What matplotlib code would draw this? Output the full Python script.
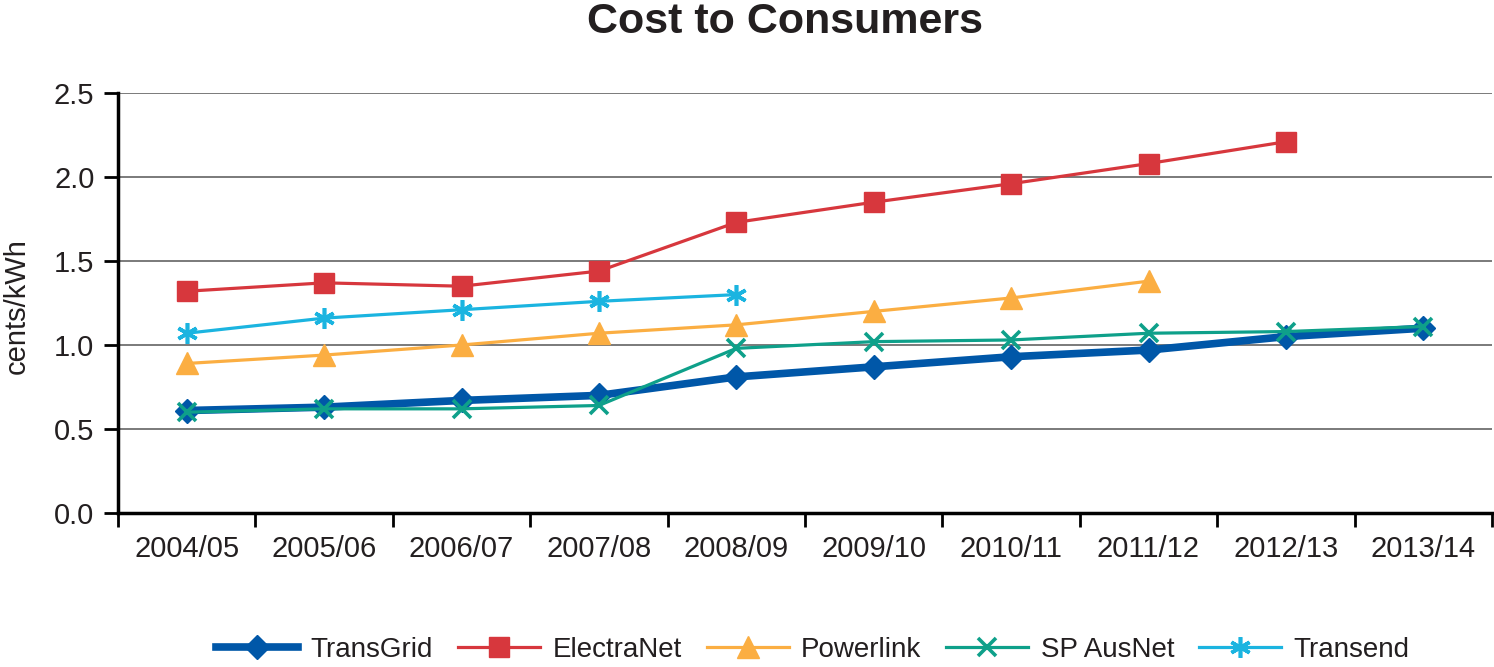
import matplotlib
matplotlib.use("Agg")
from matplotlib import pyplot as plt
import numpy as np

plt.rcParams['font.family'] = ['Liberation Sans', 'DejaVu Sans']

# data (cents/kWh)
years = ['2004/05', '2005/06', '2006/07', '2007/08', '2008/09',
         '2009/10', '2010/11', '2011/12', '2012/13', '2013/14']
transgrid = [0.61, 0.63, 0.67, 0.70, 0.81, 0.87, 0.93, 0.97, 1.05, 1.10]
electranet = [1.32, 1.37, 1.35, 1.44, 1.73, 1.85, 1.96, 2.08, 2.21]
powerlink = [0.89, 0.94, 1.00, 1.07, 1.12, 1.20, 1.28, 1.38]
spausnet = [0.60, 0.62, 0.62, 0.64, 0.98, 1.02, 1.03, 1.07, 1.08, 1.11]
transend = [1.07, 1.16, 1.21, 1.26, 1.30]

txt = '#231f20'

fig = plt.figure(figsize=(14.94, 6.67), dpi=100)
ax = fig.add_axes([118 / 1494, 1 - 513 / 667, (1492 - 118) / 1494, (513 - 93) / 667])

x = np.arange(len(years))

ax.plot(x[:len(transgrid)], transgrid, color='#0057a8', lw=5.5, marker='D', ms=12,
        label='TransGrid', zorder=3)
ax.plot(x[:len(electranet)], electranet, color='#d7373d', lw=2.3, marker='s', ms=14,
        label='ElectraNet', zorder=4)
ax.plot(x[:len(powerlink)], powerlink, color='#fbae42', lw=2.3, marker='^', ms=16,
        label='Powerlink', zorder=4)
ax.plot(x[:len(spausnet)], spausnet, color='#0ea08a', lw=2.3, marker='x', ms=13, mew=2.6,
        label='SP AusNet', zorder=5)
ax.plot(x[:len(transend)], transend, color='#1bb4e0', lw=2.3, marker=(6, 2, 0), ms=15, mew=2.6,
        label='Transend', zorder=4)

ax.set_xlim(-0.5, len(years) - 0.5)
ax.set_ylim(0, 2.5)

# y axis
ax.set_yticks([0, 0.5, 1.0, 1.5, 2.0, 2.5])
ax.set_yticklabels(['0.0', '0.5', '1.0', '1.5', '2.0', '2.5'])
ax.yaxis.grid(True, color='#6f6f6f', lw=1.3)
ax.set_axisbelow(True)
ax.tick_params(axis='y', direction='out', length=10, width=2, pad=7,
               labelsize=21, labelcolor=txt)

# x axis: ticks between categories, labels centred
ax.set_xticks(np.arange(len(years) + 1) - 0.5)
ax.set_xticklabels([])
ax.set_xticks(x, minor=True)
ax.set_xticklabels(years, minor=True)
ax.tick_params(axis='x', which='major', direction='out', length=10, width=2)
ax.tick_params(axis='x', which='minor', length=0, pad=16, labelsize=21, labelcolor=txt)

for s in ['top', 'right']:
    ax.spines[s].set_visible(False)
for s in ['left', 'bottom']:
    ax.spines[s].set_linewidth(2.5)
    ax.spines[s].set_color('black')

fig.text(785 / 1494, 1 - 22 / 667, 'Cost to Consumers', ha='center', va='center',
         fontsize=31, fontweight='bold', color=txt)
fig.text(17 / 1494, 1 - 306 / 667, 'cents/kWh', rotation=90, ha='center', va='center',
         fontsize=21, color=txt)

fig.legend(loc='center', bbox_to_anchor=(813 / 1494, 1 - 650 / 667), ncol=5, frameon=False,
           fontsize=20, handlelength=2.95, handletextpad=0.45, columnspacing=0.9,
           labelcolor=txt)

fig.savefig('out.png', dpi=100)
